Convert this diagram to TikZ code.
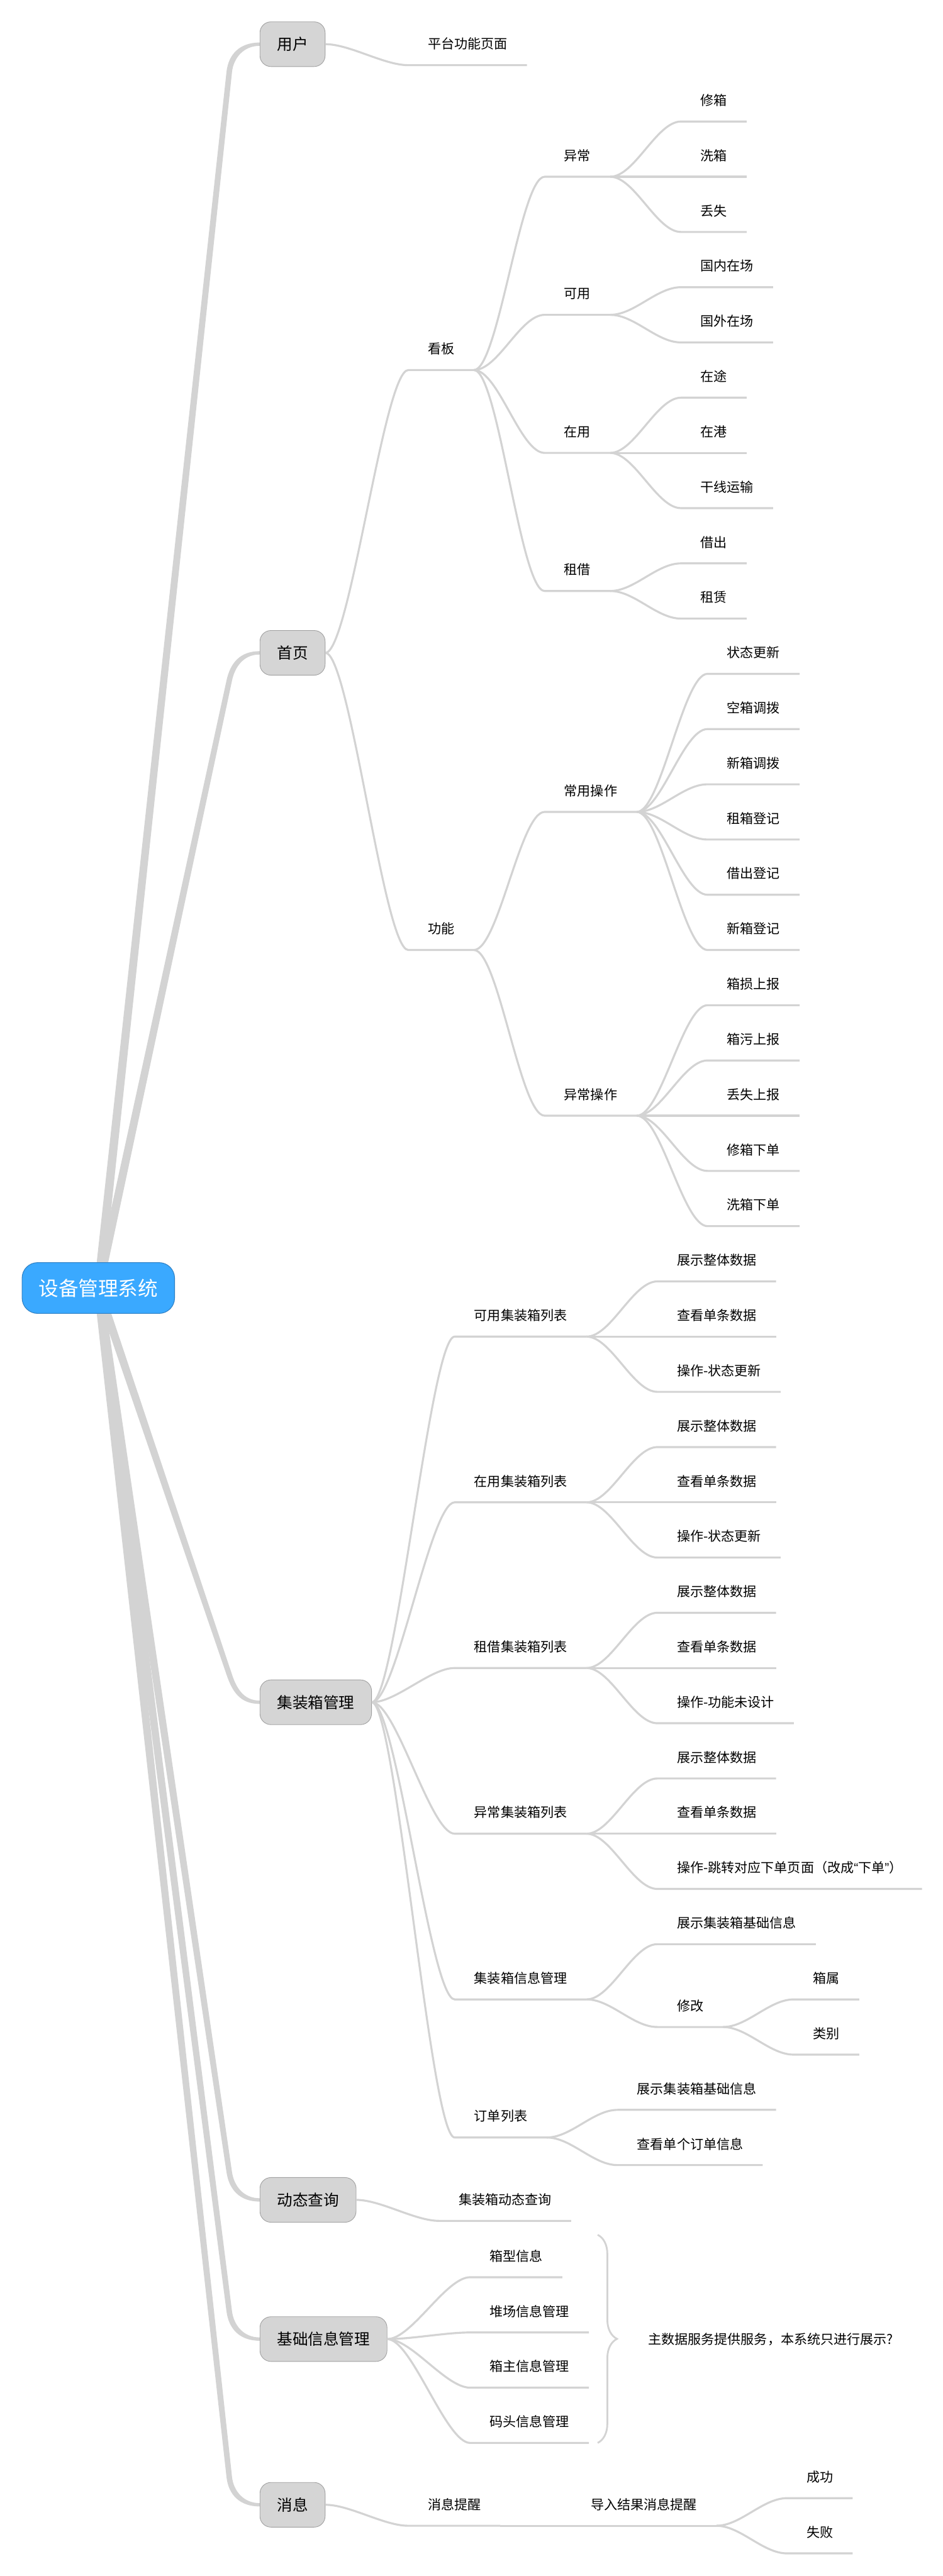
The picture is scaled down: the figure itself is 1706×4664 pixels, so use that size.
\documentclass[tikz,border=0pt]{standalone}
\usepackage{fontspec}
\setmainfont{Noto Sans CJK SC}
\newfontfamily\quotefont{Liberation Sans}
\usetikzlibrary{backgrounds,calc,decorations.pathreplacing}

\definecolor{rootblue}{HTML}{3AA9FF}
\definecolor{rootedge}{HTML}{2F80C4}
\definecolor{boxgray}{HTML}{D5D5D5}
\definecolor{boxedge}{HTML}{A0A0A0}
\definecolor{linegray}{HTML}{D3D3D3}

\begin{document}
\begin{tikzpicture}[
    x=0.5pt, y=-0.5pt,
    root/.style={draw=rootedge, line width=0.6pt, fill=rootblue, text=white, rounded corners=14pt, font=\fontsize{18pt}{20pt}\selectfont, inner xsep=15pt, minimum height=46pt},
    main/.style={draw=boxedge, line width=0.5pt, fill=boxgray, rounded corners=10pt, font=\fontsize{14pt}{16pt}\selectfont, inner xsep=15.5pt, minimum height=40.5pt, anchor=west},
    topic/.style={font=\fontsize{12pt}{14pt}\selectfont, inner xsep=17.5pt, inner ysep=0pt, minimum height=38pt, anchor=south west},
    first/.style={topic, xshift=75pt},
    sub/.style={topic, xshift=64pt},
    link/.style={draw=linegray, line width=1.8pt, to path={.. controls +(22pt,0) and +(-22pt,0) .. (\tikztotarget.south west) -- (\tikztotarget.south east)}},
    trunk/.style={fill=linegray},
    summary/.style={draw=linegray, line width=1.6pt, decorate, decoration={brace, amplitude=17.5pt}}
  ]
  \useasboundingbox (0,0) rectangle (1706,4664);

  % root and level-one topics
  \node[root] (root) at (178,2332) {设备管理系统};
  \node[main] (yh) at (470,80) {用户};
  \node[main] (sy) at (470,1182) {首页};
  \node[main] (jzx) at (470,3082) {集装箱管理};
  \node[main] (dt) at (470,3983) {动态查询};
  \node[main] (jc) at (470,4235) {基础信息管理};
  \node[main] (xx) at (470,4535) {消息};

  % 用户
  \node[first] (ptym) at (yh.east |- 0,118) {平台功能页面};

  % 首页: 看板
  \node[first] (kb) at (sy.east |- 0,670) {看板};
  \node[sub] (yc) at (kb.south east |- 0,320) {异常};
  \node[sub] (ky) at (kb.south east |- 0,570) {可用};
  \node[sub] (zy) at (kb.south east |- 0,820) {在用};
  \node[sub] (zj) at (kb.south east |- 0,1070) {租借};
  \node[sub] (xiux) at (yc.south east |- 0,220) {修箱};
  \node[sub] (xix) at (yc.south east |- 0,320) {洗箱};
  \node[sub] (dius) at (yc.south east |- 0,420) {丢失};
  \node[sub] (gnzc) at (ky.south east |- 0,520) {国内在场};
  \node[sub] (gwzc) at (ky.south east |- 0,620) {国外在场};
  \node[sub] (zt) at (zy.south east |- 0,720) {在途};
  \node[sub] (zg) at (zy.south east |- 0,820) {在港};
  \node[sub] (gxys) at (zy.south east |- 0,920) {干线运输};
  \node[sub] (jiec) at (zj.south east |- 0,1020) {借出};
  \node[sub] (zul) at (zj.south east |- 0,1120) {租赁};

  % 首页: 功能
  \node[first] (gn) at (sy.east |- 0,1720) {功能};
  \node[sub] (cycz) at (gn.south east |- 0,1470) {常用操作};
  \node[sub] (yccz) at (gn.south east |- 0,2020) {异常操作};
  \node[sub] (ztgx) at (cycz.south east |- 0,1220) {状态更新};
  \node[sub] (kxdb) at (cycz.south east |- 0,1320) {空箱调拨};
  \node[sub] (xxdb) at (cycz.south east |- 0,1420) {新箱调拨};
  \node[sub] (zxdj) at (cycz.south east |- 0,1520) {租箱登记};
  \node[sub] (jcdj) at (cycz.south east |- 0,1620) {借出登记};
  \node[sub] (xxdj) at (cycz.south east |- 0,1720) {新箱登记};
  \node[sub] (xssb) at (yccz.south east |- 0,1820) {箱损上报};
  \node[sub] (xwsb) at (yccz.south east |- 0,1920) {箱污上报};
  \node[sub] (dssb) at (yccz.south east |- 0,2020) {丢失上报};
  \node[sub] (xxxd) at (yccz.south east |- 0,2120) {修箱下单};
  \node[sub] (xixd) at (yccz.south east |- 0,2220) {洗箱下单};

  % 集装箱管理
  \node[first] (kyl) at (jzx.east |- 0,2420) {可用集装箱列表};
  \node[first] (zyl) at (jzx.east |- 0,2720) {在用集装箱列表};
  \node[first] (zjl) at (jzx.east |- 0,3020) {租借集装箱列表};
  \node[first] (ycl) at (jzx.east |- 0,3320) {异常集装箱列表};
  \node[first] (xxgl) at (jzx.east |- 0,3620) {集装箱信息管理};
  \node[first] (ddl) at (jzx.east |- 0,3870) {订单列表};
  \node[sub] (kyl1) at (kyl.south east |- 0,2320) {展示整体数据};
  \node[sub] (kyl2) at (kyl.south east |- 0,2420) {查看单条数据};
  \node[sub] (kyl3) at (kyl.south east |- 0,2520) {操作-状态更新};
  \node[sub] (zyl1) at (zyl.south east |- 0,2620) {展示整体数据};
  \node[sub] (zyl2) at (zyl.south east |- 0,2720) {查看单条数据};
  \node[sub] (zyl3) at (zyl.south east |- 0,2820) {操作-状态更新};
  \node[sub] (zjl1) at (zjl.south east |- 0,2920) {展示整体数据};
  \node[sub] (zjl2) at (zjl.south east |- 0,3020) {查看单条数据};
  \node[sub] (zjl3) at (zjl.south east |- 0,3120) {操作-功能未设计};
  \node[sub] (ycl1) at (ycl.south east |- 0,3220) {展示整体数据};
  \node[sub] (ycl2) at (ycl.south east |- 0,3320) {查看单条数据};
  \node[sub] (ycl3) at (ycl.south east |- 0,3420) {操作-跳转对应下单页面（改成{\quotefont “}下单{\quotefont ”}）};
  \node[sub] (xxzs) at (xxgl.south east |- 0,3520) {展示集装箱基础信息};
  \node[sub] (xg) at (xxgl.south east |- 0,3670) {修改};
  \node[sub] (xsh) at (xg.south east |- 0,3620) {箱属};
  \node[sub] (lb) at (xg.south east |- 0,3720) {类别};
  \node[sub] (ddzs) at (ddl.south east |- 0,3820) {展示集装箱基础信息};
  \node[sub] (ddck) at (ddl.south east |- 0,3920) {查看单个订单信息};

  % 动态查询, 基础信息管理, 消息
  \node[first] (dtcx) at (dt.east |- 0,4021) {集装箱动态查询};
  \node[first] (xxxx) at (jc.east |- 0,4123) {箱型信息};
  \node[first] (dcxx) at (jc.east |- 0,4223) {堆场信息管理};
  \node[first] (xzxx) at (jc.east |- 0,4323) {箱主信息管理};
  \node[first] (mtxx) at (jc.east |- 0,4423) {码头信息管理};
  \node[first] (xxtx) at (xx.east |- 0,4573) {消息提醒};
  \node[sub] (drtx) at (xxtx.south east |- 0,4573) {导入结果消息提醒};
  \node[sub] (cg) at (drtx.south east |- 0,4523) {成功};
  \node[sub] (sb) at (drtx.south east |- 0,4623) {失败};

  % summary brace of 基础信息管理
  \coordinate (bt) at (dcxx.south east |- xxxx.north);
  \coordinate (bb) at (dcxx.south east |- mtxx.south);
  \draw[summary] ([xshift=8pt]bt) -- ([xshift=8pt]bb);
  \node[topic, anchor=west, xshift=36pt] (zsj) at (bt |- jc.center) {主数据服务提供服务，本系统只进行展示?};

  % tapered main branches from the root
  \begin{scope}[on background layer]
    \fill[white] (0,0) rectangle (1706,4664);
    \foreach \m/\b/\o/\i in {yh/-25pt/1.5pt/-1.5pt, sy/-25pt/1.5pt/-1.5pt, jzx/25pt/-1.5pt/1.5pt,
                             dt/25pt/-1.5pt/1.5pt, jc/25pt/-1.5pt/1.5pt, xx/25pt/-1.5pt/1.5pt} {
      \coordinate (rl) at ([xshift=-4pt]root.center);
      \coordinate (rr) at ([xshift=4pt]root.center);
      \coordinate (bl) at ([xshift=-30pt,yshift=\b]\m.west);
      \coordinate (br) at ([xshift=-25pt,yshift=\b]\m.west);
      \fill[trunk] (rl) -- (bl)
        .. controls ($(bl)!-16pt!(rl)$) and ([xshift=-18pt,yshift=\o]\m.west) .. ([yshift=\o]\m.west)
        -- ([yshift=\i]\m.west)
        .. controls ([xshift=-15pt,yshift=\i]\m.west) and ($(br)!-12pt!(rr)$) .. (br)
        -- (rr) -- cycle;
    }
  \end{scope}

  % connectors
  \draw[link] (yh.east) to (ptym);
  \foreach \c in {kb,gn} \draw[link] (sy.east) to (\c);
  \foreach \c in {yc,ky,zy,zj} \draw[link] (kb.south east) to (\c);
  \foreach \c in {xiux,xix,dius} \draw[link] (yc.south east) to (\c);
  \foreach \c in {gnzc,gwzc} \draw[link] (ky.south east) to (\c);
  \foreach \c in {zt,zg,gxys} \draw[link] (zy.south east) to (\c);
  \foreach \c in {jiec,zul} \draw[link] (zj.south east) to (\c);
  \foreach \c in {cycz,yccz} \draw[link] (gn.south east) to (\c);
  \foreach \c in {ztgx,kxdb,xxdb,zxdj,jcdj,xxdj} \draw[link] (cycz.south east) to (\c);
  \foreach \c in {xssb,xwsb,dssb,xxxd,xixd} \draw[link] (yccz.south east) to (\c);
  \foreach \c in {kyl,zyl,zjl,ycl,xxgl,ddl} \draw[link] (jzx.east) to (\c);
  \foreach \p in {kyl,zyl,zjl,ycl} \foreach \n in {1,2,3} \draw[link] (\p.south east) to (\p\n);
  \foreach \c in {xxzs,xg} \draw[link] (xxgl.south east) to (\c);
  \foreach \c in {xsh,lb} \draw[link] (xg.south east) to (\c);
  \foreach \c in {ddzs,ddck} \draw[link] (ddl.south east) to (\c);
  \draw[link] (dt.east) to (dtcx);
  \foreach \c in {xxxx,dcxx,xzxx,mtxx} \draw[link] (jc.east) to (\c);
  \draw[link] (xx.east) to (xxtx);
  \draw[link] (xxtx.south east) to (drtx);
  \foreach \c in {cg,sb} \draw[link] (drtx.south east) to (\c);
\end{tikzpicture}
\end{document}
